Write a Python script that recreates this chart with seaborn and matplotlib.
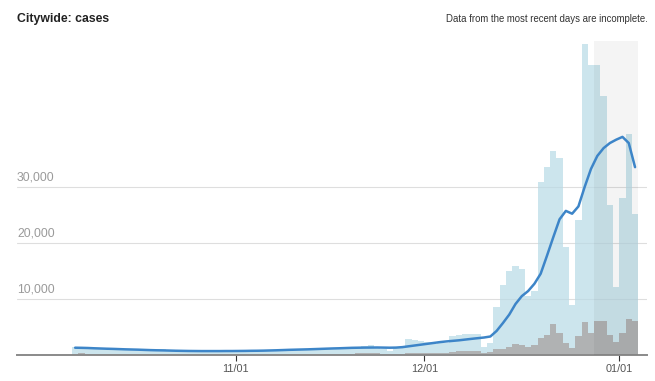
import numpy as np
import pandas as pd
import matplotlib
matplotlib.use("Agg")
import matplotlib.pyplot as plt
import seaborn as sns

# daily values, starting 2021-10-06
start = "2021-10-06"
total_cases = [1350, 1400, 1300, 1150, 1050, 1300, 1250,
               1200, 1150, 1050, 950, 900, 1150, 1100,
               1050, 950, 850, 750, 700, 900, 850,
               800, 750, 700, 650, 600, 750, 800,
               750, 700, 700, 650, 850, 900, 950,
               1000, 950, 900, 1050, 1150, 1150, 1200,
               1150, 1100, 1300, 1400, 1600, 1700, 1450,
               1000, 800, 1200, 1300,
               2900, 2700, 2500, 2400, 2000, 2100, 2200,
               3400, 3500, 3700, 3800, 3700, 1500, 2200,
               8600, 12500, 14900, 15900, 15400, 10500, 11500,
               30800, 33600, 36300, 35100, 19200, 8900, 24000,
               55500, 51800, 51800, 46200, 26800, 12200, 28000, 39400, 25200]
probable_cases = [260, 280, 250, 220, 200, 260, 250,
                  240, 230, 210, 190, 180, 230, 220,
                  210, 190, 170, 150, 140, 180, 170,
                  160, 150, 140, 130, 120, 150, 160,
                  150, 140, 140, 130, 170, 180, 190,
                  200, 190, 180, 210, 230, 230, 240,
                  230, 220, 260, 280, 320, 340, 290,
                  200, 160, 240, 260,
                  400, 420, 380, 400, 350, 380, 420,
                  600, 650, 700, 650, 700, 300, 450,
                  1000, 1100, 1500, 1900, 1700, 1500, 1700,
                  3000, 3500, 5600, 3900, 2200, 1300, 3300,
                  5800, 3900, 6000, 6000, 3500, 2300, 4000, 6500, 6000]
avg_cases = [1300, 1280, 1250, 1200, 1160, 1120, 1090,
             1050, 1010, 980, 950, 910, 870, 840,
             820, 790, 760, 740, 720, 710, 700,
             700, 700, 700, 710, 710, 720, 730,
             750, 760, 780, 810, 840, 880, 920,
             950, 980, 1010, 1050, 1090, 1130, 1170,
             1200, 1240, 1280, 1300, 1320, 1330, 1340,
             1320, 1300, 1320, 1400,
             1550, 1700, 1850, 2000, 2150, 2300, 2420,
             2520, 2620, 2750, 2880, 3000, 3120, 3300,
             4300, 5700, 7200, 9100, 10500, 11400, 12700,
             14500, 17700, 21000, 24200, 25700, 25200, 26500,
             30000, 33200, 35500, 36900, 37800, 38400, 38900, 37800, 33500]
incomplete_from = "2021-12-28"
tick_dates = ["2021-11-01", "2021-12-01", "2022-01-01"]
tick_labels = ["11/01", "12/01", "01/01"]
y_ticks = [10000, 20000, 30000]
y_labels = ["10,000", "20,000", "30,000"]

dates = pd.date_range(start, periods=len(total_cases), freq="D")
df = pd.DataFrame({"date": dates, "total": total_cases,
                   "probable": probable_cases, "avg": avg_cases})
df["day"] = (df["date"] - dates[0]).dt.days
df["mid"] = df["day"] + 0.5
n_days = len(df)

sns.set_style("white")
plt.rcParams["font.family"] = ["Liberation Sans", "DejaVu Sans"]

fig = plt.figure(figsize=(6.55, 3.81), dpi=100)
ax = fig.add_axes([17 / 655, 1 - 355 / 381, (647 - 17) / 655, (355 - 41) / 381])

for v in y_ticks:
    ax.axhline(v, color="#dedede", lw=0.8, zorder=0.5)

sns.histplot(data=df, x="mid", weights="total", binwidth=1, binrange=(0, n_days),
             element="step", fill=True, color="#b9dbe6", alpha=0.72,
             linewidth=0, ax=ax)
sns.histplot(data=df, x="mid", weights="probable", binwidth=1, binrange=(0, n_days),
             element="step", fill=True, color="#adadad", alpha=0.9,
             linewidth=0, ax=ax)

# greyed-out area for incomplete days
shade_start = (pd.Timestamp(incomplete_from) - dates[0]).days
ax.axvspan(shade_start, n_days, color="black", alpha=0.045, lw=0, zorder=3)

sns.lineplot(data=df, x="mid", y="avg", color="#3d85c8", lw=1.8, ax=ax, zorder=4)

ax.set_xlim(-8.74, 91.4)
ax.set_ylim(0, 56000)
tick_pos = [(pd.Timestamp(d) - dates[0]).days for d in tick_dates]
ax.set_xticks(tick_pos, tick_labels)
ax.set_yticks([])
ax.set_xlabel("")
ax.set_ylabel("")
for s in ["top", "right", "left"]:
    ax.spines[s].set_visible(False)
ax.spines["bottom"].set_color("#8a8a8a")
ax.spines["bottom"].set_linewidth(1.4)
ax.tick_params(axis="x", length=4, width=0.8, color="#333333",
               labelsize=7.8, labelcolor="#555555", pad=2.5, bottom=True)

for v, lbl in zip(y_ticks, y_labels):
    ax.annotate(lbl, xy=(0, v), xycoords=("axes fraction", "data"),
                xytext=(0, 2.5), textcoords="offset points",
                ha="left", va="bottom", fontsize=8.8, color="#9a9a9a")

fig.text(17 / 655, 1 - 19 / 381, "Citywide: cases", fontsize=8.8,
         fontweight="bold", color="#222222", va="center", ha="left")
fig.text(648 / 655, 1 - 19 / 381, "Data from the most recent days are incomplete.",
         fontsize=6.9, color="#333333", va="center", ha="right")

fig.savefig("out.png", dpi=100)
